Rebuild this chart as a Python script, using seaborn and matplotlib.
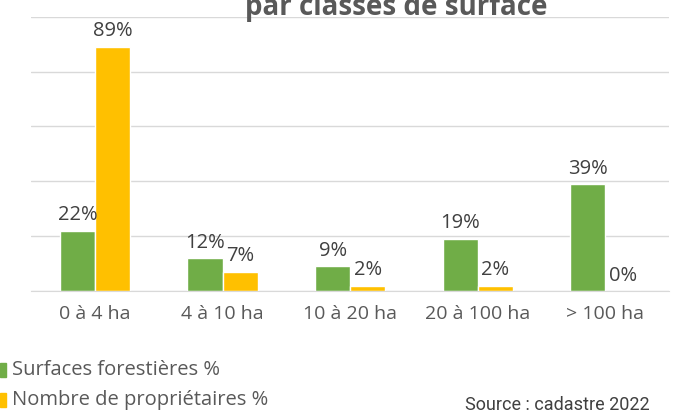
import pandas as pd
import matplotlib.pyplot as plt
import seaborn as sns

# Data
classes = ['0 à 4 ha', '4 à 10 ha', '10 à 20 ha', '20 à 100 ha', '> 100 ha']
surfaces = [22, 12, 9, 19, 39]
proprietaires = [89, 7, 2, 2, 0]
series = ['Surfaces forestières %', 'Nombre de propriétaires %']
colors = ['#70AD47', '#FFC000']

df = pd.DataFrame({
    'Classe': classes * 2,
    'Valeur': surfaces + proprietaires,
    'Serie': [series[0]] * len(classes) + [series[1]] * len(classes),
})

sns.set_style('white')
plt.rcParams['font.family'] = ['Open Sans', 'DejaVu Sans']

fig = plt.figure(figsize=(6.9, 4.16), dpi=100)
ax = fig.add_axes([0.045, 0.30, 0.925, 0.66])

sns.barplot(data=df, x='Classe', y='Valeur', hue='Serie', palette=colors,
            width=0.55, saturation=1, ax=ax, legend=False)

for cont in ax.containers:
    ax.bar_label(cont, fmt='%d%%', padding=4, fontsize=14.5, color='#404040')

ax.set_ylim(0, 100)
ax.set_yticks([0, 20, 40, 60, 80, 100])
ax.set_yticklabels([])
ax.tick_params(axis='y', length=0)
ax.yaxis.grid(True, color='#D9D9D9', linewidth=1)
ax.set_axisbelow(True)
ax.set_xlabel('')
ax.set_ylabel('')
ax.tick_params(axis='x', length=0, pad=10, labelsize=14, labelcolor='#595959')
for s in ['top', 'right', 'left']:
    ax.spines[s].set_visible(False)
ax.spines['bottom'].set_color('#D9D9D9')

# title cut at the top of the picture, as in the original
fig.text(0.575, 1 - 15 / 416, 'par classes de surface', ha='center', va='baseline',
         fontsize=20, fontweight='bold', color='#595959')

# legend
for i, (lab, c) in enumerate(zip(series, colors)):
    y = 1 - (370 + 30 * i) / 416
    fig.patches.append(plt.Rectangle((0.0, y - 0.018), 0.009, 0.036, color=c,
                                     transform=fig.transFigure, figure=fig))
    fig.text(0.017, y, lab, va='center', ha='left', fontsize=14.5, color='#595959')

fig.text(0.674, 1 - 405 / 416, 'Source : cadastre 2022', va='center', ha='left',
         fontsize=13, color='#404040', family='Roboto')

fig.savefig('out.png', dpi=100)
